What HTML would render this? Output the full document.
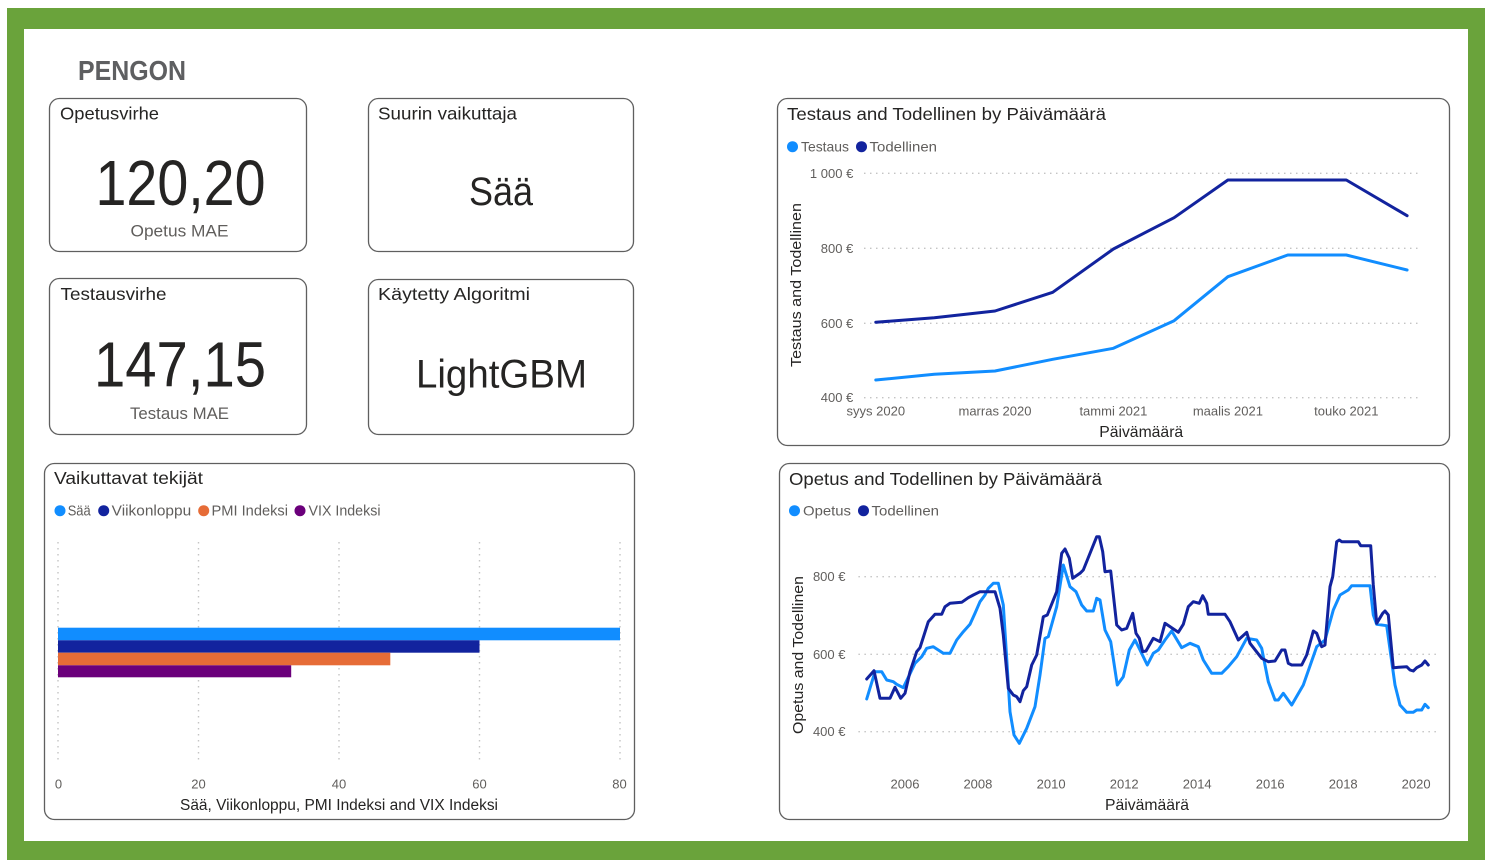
<!DOCTYPE html>
<html>
<head>
<meta charset="utf-8">
<style>
  html,body{margin:0;padding:0;background:#fff;}
  svg{display:block;}
  text{font-family:"Liberation Sans", "DejaVu Sans", sans-serif;}
</style>
</head>
<body>
<svg width="1493" height="868" viewBox="0 0 1493 868" xmlns="http://www.w3.org/2000/svg">
  <rect x="0" y="0" width="1493" height="868" fill="#ffffff"/>
  <!-- green frame -->
  <rect x="7" y="8" width="1478" height="852" fill="#6AA33B"/>
  <rect x="24" y="29" width="1444" height="812" fill="#ffffff"/>

  <!-- logo -->
  <text x="78" y="80" font-size="28" font-weight="bold" fill="#5E5F61" textLength="108" lengthAdjust="spacingAndGlyphs">PENGON</text>

  <!-- cards -->
  <g fill="#fff" stroke="#5f5f5f" stroke-width="1.3">
    <rect x="49.5" y="98.5" width="257" height="153" rx="10"/>
    <rect x="368.5" y="98.5" width="265" height="153" rx="10"/>
    <rect x="49.5" y="278.5" width="257" height="156" rx="10"/>
    <rect x="368.5" y="279.5" width="265" height="155" rx="10"/>
    <rect x="777.5" y="98.5" width="672" height="347" rx="10"/>
    <rect x="44.5" y="463.5" width="590" height="356" rx="10"/>
    <rect x="779.5" y="463.5" width="670" height="356" rx="10"/>
  </g>

  <!-- card titles -->
  <g fill="#252423" font-size="17.5">
    <text x="60" y="119.5" textLength="99" lengthAdjust="spacingAndGlyphs">Opetusvirhe</text>
    <text x="378" y="119.5" textLength="139" lengthAdjust="spacingAndGlyphs">Suurin vaikuttaja</text>
    <text x="60.5" y="300" textLength="106" lengthAdjust="spacingAndGlyphs">Testausvirhe</text>
    <text x="378" y="300" textLength="152" lengthAdjust="spacingAndGlyphs">Käytetty Algoritmi</text>
    <text x="787" y="120" textLength="319" lengthAdjust="spacingAndGlyphs">Testaus and Todellinen by Päivämäärä</text>
    <text x="54" y="484" textLength="149" lengthAdjust="spacingAndGlyphs">Vaikuttavat tekijät</text>
    <text x="789" y="485" textLength="313" lengthAdjust="spacingAndGlyphs">Opetus and Todellinen by Päivämäärä</text>
  </g>

  <!-- KPI values -->
  <g fill="#252423" text-anchor="middle">
    <text x="180.5" y="205" font-size="64" textLength="170" lengthAdjust="spacingAndGlyphs">120,20</text>
    <text x="180" y="386.5" font-size="64" textLength="172" lengthAdjust="spacingAndGlyphs">147,15</text>
    <text x="501" y="205" font-size="40" textLength="64" lengthAdjust="spacingAndGlyphs">Sää</text>
    <text x="501.5" y="387.5" font-size="40" textLength="171" lengthAdjust="spacingAndGlyphs">LightGBM</text>
  </g>
  <g fill="#605E5C" text-anchor="middle" font-size="17">
    <text x="179.5" y="236.5" textLength="98" lengthAdjust="spacingAndGlyphs">Opetus MAE</text>
    <text x="179.5" y="419" textLength="99" lengthAdjust="spacingAndGlyphs">Testaus MAE</text>
  </g>

  <!-- ============ TOP RIGHT CHART ============ -->
  <circle cx="792.5" cy="146.7" r="5.5" fill="#118DFF"/>
  <circle cx="861.5" cy="146.7" r="5.5" fill="#12239E"/>
  <g fill="#605E5C" font-size="14">
    <text x="801" y="151.5" textLength="48" lengthAdjust="spacingAndGlyphs">Testaus</text>
    <text x="869.5" y="151.5" textLength="67.5" lengthAdjust="spacingAndGlyphs">Todellinen</text>
  </g>
  <g stroke="#C4C4C4" stroke-width="1.4" stroke-dasharray="1.5 4.5">
    <line x1="864" y1="173.3" x2="1418" y2="173.3"/>
    <line x1="864" y1="248.3" x2="1418" y2="248.3"/>
    <line x1="864" y1="323.3" x2="1418" y2="323.3"/>
    <line x1="864" y1="397.7" x2="1418" y2="397.7"/>
  </g>
  <g fill="#605E5C" font-size="13" text-anchor="end">
    <text x="853.3" y="177.8">1 000 €</text>
    <text x="853.3" y="252.8">800 €</text>
    <text x="853.3" y="327.8">600 €</text>
    <text x="853.3" y="402.2">400 €</text>
  </g>
  <g fill="#605E5C" font-size="13" text-anchor="middle">
    <text x="875.8" y="415.5">syys 2020</text>
    <text x="995" y="415.5">marras 2020</text>
    <text x="1113.4" y="415.5">tammi 2021</text>
    <text x="1227.9" y="415.5">maalis 2021</text>
    <text x="1346.3" y="415.5">touko 2021</text>
  </g>
  <text x="1141.2" y="437" fill="#252423" font-size="16" text-anchor="middle" textLength="84" lengthAdjust="spacingAndGlyphs">Päivämäärä</text>
  <text transform="translate(801,285) rotate(-90)" fill="#252423" font-size="15" text-anchor="middle" textLength="164" lengthAdjust="spacingAndGlyphs">Testaus and Todellinen</text>
  <polyline fill="none" stroke="#118DFF" stroke-width="3" stroke-linejoin="round" stroke-linecap="round"
    points="875.8,380 934.3,374.3 995,371 1052.7,359.3 1113.4,348.3 1174.1,320.7 1227.9,276.7 1287.8,255 1346.3,255 1407.1,270"/>
  <polyline fill="none" stroke="#12239E" stroke-width="3" stroke-linejoin="round" stroke-linecap="round"
    points="875.8,322.3 934.3,317.7 995,311 1052.7,292.3 1113.4,249 1174.1,217.7 1227.9,180 1346.3,180 1407.1,215.7"/>

  <!-- ============ BAR CHART ============ -->
  <circle cx="60" cy="510.7" r="5.5" fill="#118DFF"/>
  <circle cx="103.7" cy="510.7" r="5.5" fill="#12239E"/>
  <circle cx="203.7" cy="510.7" r="5.5" fill="#E66C37"/>
  <circle cx="300" cy="510.7" r="5.5" fill="#6B007B"/>
  <g fill="#605E5C" font-size="14.5">
    <text x="67.7" y="515.7" textLength="23" lengthAdjust="spacingAndGlyphs">Sää</text>
    <text x="111.7" y="515.7" textLength="79.5" lengthAdjust="spacingAndGlyphs">Viikonloppu</text>
    <text x="211.5" y="515.7" textLength="76.5" lengthAdjust="spacingAndGlyphs">PMI Indeksi</text>
    <text x="308.5" y="515.7" textLength="72" lengthAdjust="spacingAndGlyphs">VIX Indeksi</text>
  </g>
  <g stroke="#C4C4C4" stroke-width="1.4" stroke-dasharray="1.5 4.5">
    <line x1="58" y1="542" x2="58" y2="762"/>
    <line x1="198.5" y1="542" x2="198.5" y2="762"/>
    <line x1="339" y1="542" x2="339" y2="762"/>
    <line x1="479.5" y1="542" x2="479.5" y2="762"/>
    <line x1="620" y1="542" x2="620" y2="762"/>
  </g>
  <rect x="58" y="627.7" width="562" height="12.6" fill="#118DFF"/>
  <rect x="58" y="640.3" width="421.5" height="12.4" fill="#12239E"/>
  <rect x="58" y="652.7" width="332.3" height="12.6" fill="#E66C37"/>
  <rect x="58" y="665.3" width="233.2" height="12" fill="#6B007B"/>
  <g fill="#605E5C" font-size="13" text-anchor="middle">
    <text x="58.5" y="788.5">0</text>
    <text x="198.5" y="788.5">20</text>
    <text x="339" y="788.5">40</text>
    <text x="479.5" y="788.5">60</text>
    <text x="619.5" y="788.5">80</text>
  </g>
  <text x="339" y="810" fill="#252423" font-size="15.5" text-anchor="middle" textLength="318" lengthAdjust="spacingAndGlyphs">Sää, Viikonloppu, PMI Indeksi and VIX Indeksi</text>

  <!-- ============ BOTTOM RIGHT CHART ============ -->
  <circle cx="794.5" cy="510.7" r="5.5" fill="#118DFF"/>
  <circle cx="863.5" cy="510.7" r="5.5" fill="#12239E"/>
  <g fill="#605E5C" font-size="14">
    <text x="803" y="515.5" textLength="48" lengthAdjust="spacingAndGlyphs">Opetus</text>
    <text x="871.5" y="515.5" textLength="67.5" lengthAdjust="spacingAndGlyphs">Todellinen</text>
  </g>
  <g stroke="#C4C4C4" stroke-width="1.4" stroke-dasharray="1.5 4.5">
    <line x1="858.4" y1="576.7" x2="1438" y2="576.7"/>
    <line x1="858.4" y1="654.3" x2="1438" y2="654.3"/>
    <line x1="858.4" y1="731.7" x2="1438" y2="731.7"/>
  </g>
  <g fill="#605E5C" font-size="13" text-anchor="end">
    <text x="845.5" y="581.2">800 €</text>
    <text x="845.5" y="658.8">600 €</text>
    <text x="845.5" y="736.2">400 €</text>
  </g>
  <g fill="#605E5C" font-size="13" text-anchor="middle">
    <text x="905" y="788.5">2006</text>
    <text x="977.9" y="788.5">2008</text>
    <text x="1051.1" y="788.5">2010</text>
    <text x="1124.2" y="788.5">2012</text>
    <text x="1197.2" y="788.5">2014</text>
    <text x="1270.2" y="788.5">2016</text>
    <text x="1343.2" y="788.5">2018</text>
    <text x="1416.1" y="788.5">2020</text>
  </g>
  <text x="1147" y="810" fill="#252423" font-size="16" text-anchor="middle" textLength="84" lengthAdjust="spacingAndGlyphs">Päivämäärä</text>
  <text transform="translate(803,655) rotate(-90)" fill="#252423" font-size="15" text-anchor="middle" textLength="158" lengthAdjust="spacingAndGlyphs">Opetus and Todellinen</text>

  <polyline fill="none" stroke="#118DFF" stroke-width="3" stroke-linejoin="round" stroke-linecap="round"
    points="866.7,699 875,671.7 881.7,671.7 886.7,680 893.3,681.7 896.7,684.3 903.3,687.7 915,663.3 921.7,656.7 926.7,648.3 933.3,646.7 943.3,653.3 950,653.3 956.7,640 963.3,631.7 970,624.3 975,613.3 980,601.7 985,595 988.3,588.3 993.3,583.3 998.3,583.3 1003.3,605 1006.7,658.3 1010,711.7 1014,735 1019.3,743.3 1026.7,728.3 1035,706.7 1040,675 1045,638.3 1048.3,636.7 1056.7,606.7 1063.3,565 1070,586.7 1076,591.7 1081.7,605 1086.7,611 1093.3,611 1096.7,598.3 1100,600 1105,630 1110.7,641.7 1117.3,685 1123.3,676.7 1129.3,650 1135,640 1140,650 1147.3,665 1153.3,653.3 1158.3,650 1165,640 1171.7,631 1181.7,647.7 1190,643.3 1198.3,646.7 1203.3,660 1211.7,673.3 1221.7,673.3 1228.3,666.7 1236.7,656.7 1246.7,638.3 1256.7,640 1261.7,648.3 1268.3,681.7 1275,700 1278.3,700 1283.3,693.3 1291.7,705 1303.3,685 1316.7,646.7 1325,640 1333.3,610 1340,595 1348.3,590 1351.7,585.7 1370,585.7 1373.3,615 1376.7,624.3 1386.7,625.7 1395,685 1400,705 1406.7,712.3 1413.3,712.3 1416.7,710 1421.7,710 1425,704.3 1428.3,707.7"/>
  <polyline fill="none" stroke="#12239E" stroke-width="3" stroke-linejoin="round" stroke-linecap="round"
    points="866.7,679 874,670.7 880,698.3 890,698.3 895,687.3 900.7,698.3 905,693.3 910,671.7 916.7,651.7 920,647.7 928.3,621.7 935,614.3 941.7,614.3 945,606.7 950,603.3 961.7,602.3 968.3,597.7 973.3,595 980,591.7 995,591.7 1000,608.3 1003.3,635 1008.3,688.3 1013.3,695 1016.7,696.7 1020,701.7 1023.3,690.7 1026.7,686.7 1031.7,665 1036.7,655 1043.3,616.7 1047.3,615 1056.7,591.7 1061.7,553.3 1065,549 1069.3,558.3 1072.7,578.3 1080,573.3 1083.3,570 1096.7,536.7 1099.3,536.7 1102.7,551.7 1105,571.7 1110.7,571 1116.7,625 1121.7,630 1126.7,628.3 1132.7,613.3 1136,633.3 1139.3,638.3 1142.7,651.7 1146,651 1153.3,638.3 1160,641.7 1165,623.3 1178.3,632.3 1183.3,624.3 1188.3,606.7 1193.3,601.7 1199.3,603.3 1202.7,595.7 1206.7,603.3 1208.3,614.3 1225,614.3 1230,621.7 1238.3,640 1246.7,632.3 1250,643.3 1261.7,658.3 1268.3,661.7 1275,661 1281.7,650 1285,650 1288.3,663.3 1291.7,665 1301.7,665 1306.7,655 1313.3,631 1316.7,633.3 1321.7,646.7 1325,645 1330,586.7 1332.7,576.7 1336.7,541.7 1339.3,540 1341.7,541.7 1358.3,541.7 1360.7,545.7 1370.7,545.7 1373.3,585 1376.7,623.3 1382.7,613.3 1385,611 1388.3,615 1393.3,667.7 1406.7,666.7 1410,670 1413.3,671 1416.7,667.7 1421.7,665 1425,661 1428.3,665"/>
</svg>
</body>
</html>
